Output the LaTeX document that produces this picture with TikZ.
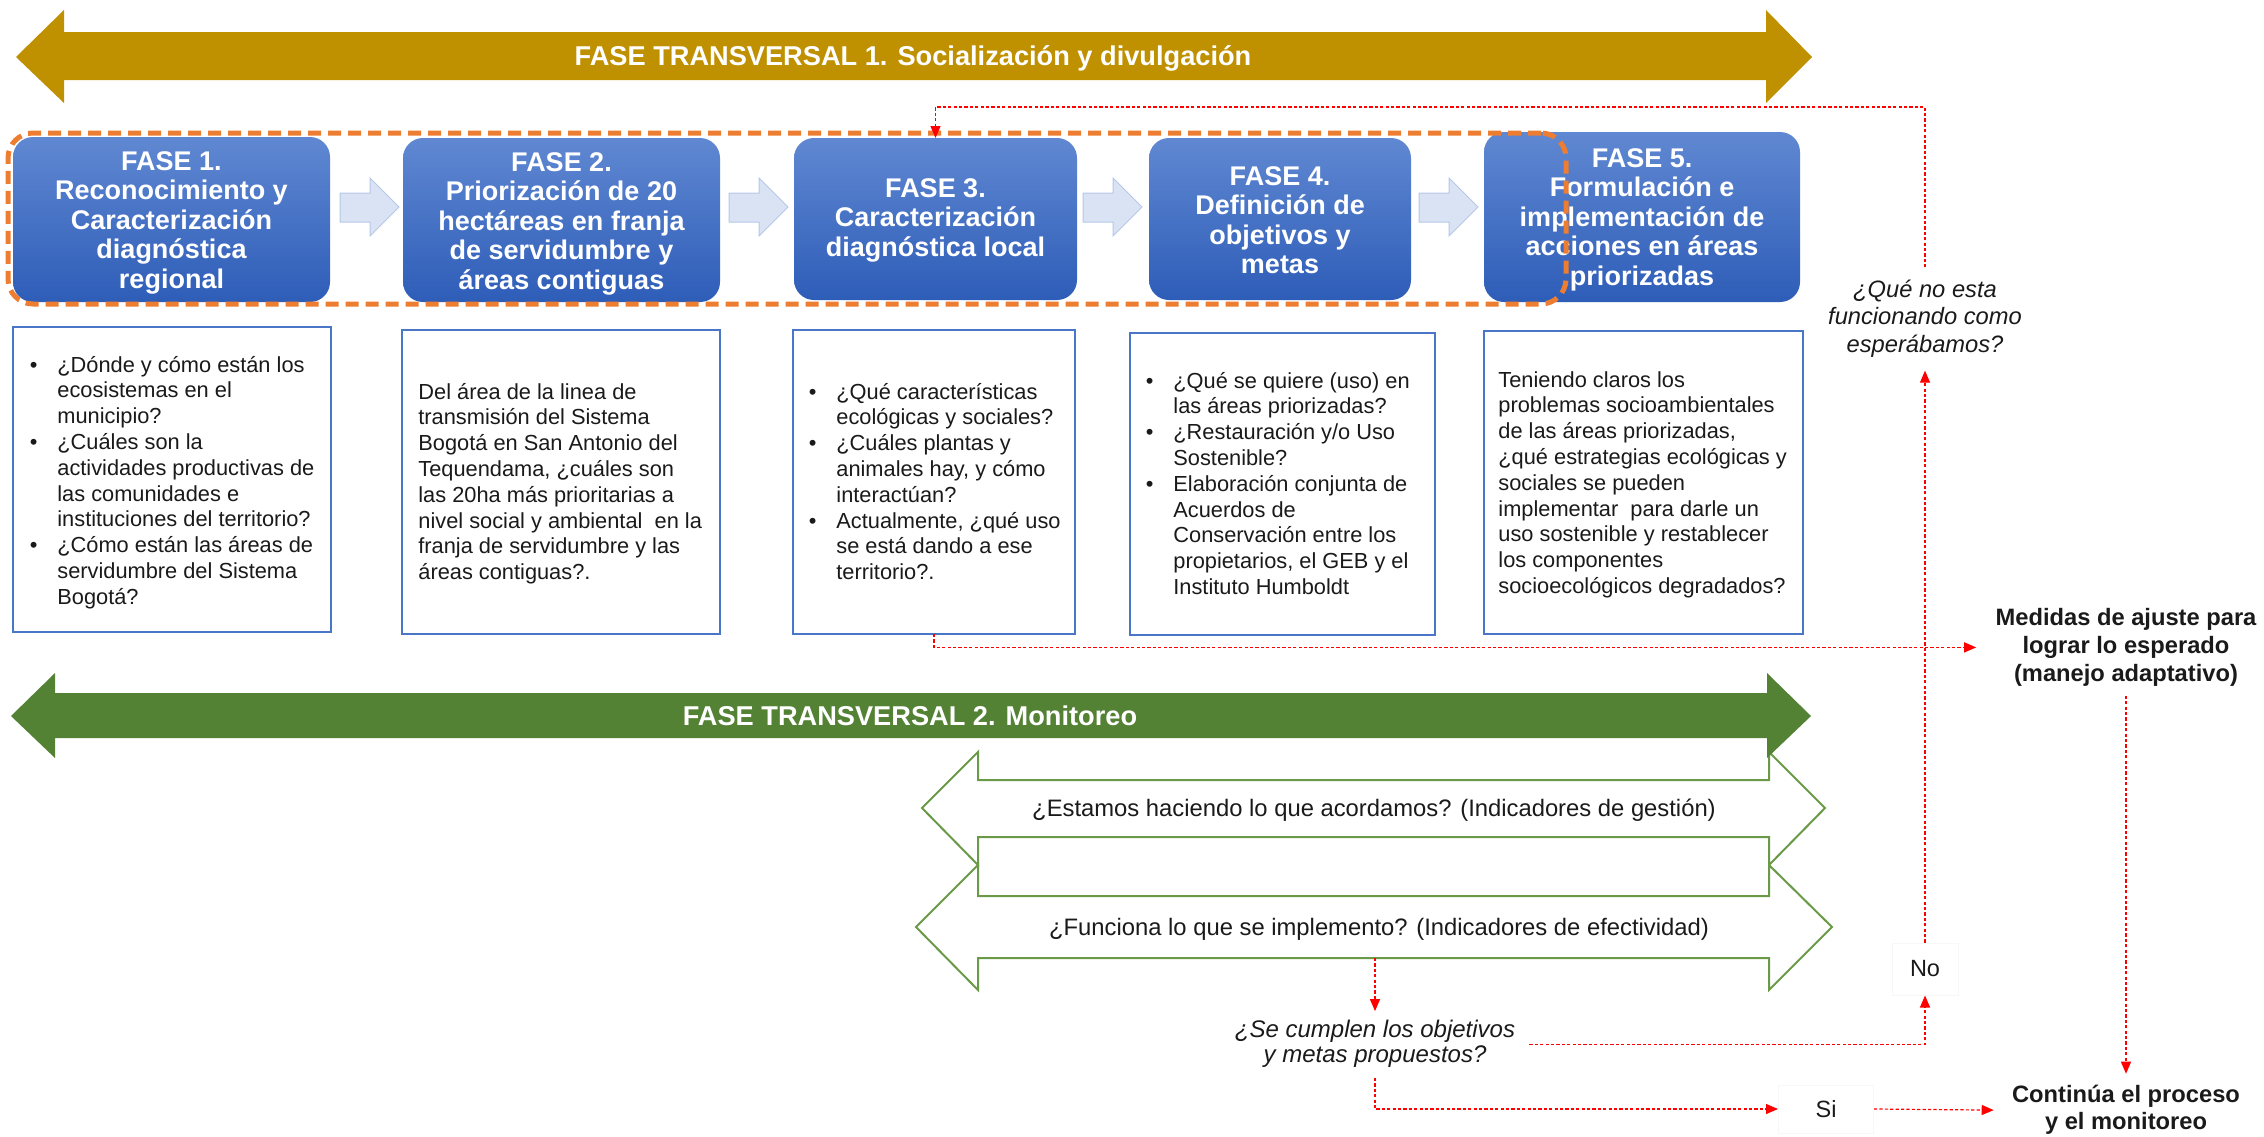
\documentclass[tikz,border=0pt]{standalone}
\usepackage{fontspec}
\setmainfont{Liberation Sans}
\usetikzlibrary{arrows.meta}
\definecolor{gold}{HTML}{BF9000}
\definecolor{mgreen}{HTML}{548235}
\definecolor{ogreen}{HTML}{6A9A48}
\definecolor{bluetop}{HTML}{6088D2}
\definecolor{bluebot}{HTML}{2E5DB8}
\definecolor{tbblue}{HTML}{4A76C8}
\definecolor{lbfill}{HTML}{DAE3F3}
\definecolor{lbdraw}{HTML}{B4C7E7}
\definecolor{orng}{HTML}{ED7D31}
\definecolor{txt}{HTML}{1A1A1A}
\newcommand\mybul{\llap{\textbullet\hspace{10pt}}}
\begin{document}
\begin{tikzpicture}[x=0.5pt,y=-0.5pt,
  phasebox/.style={rounded corners=10pt, top color=bluetop, bottom color=bluebot, draw=none, inner sep=0pt, outer sep=0pt},
  phasetext/.style={text=white, font=\fontsize{13.5pt}{14.75pt}\selectfont\bfseries, inner sep=0pt, anchor=base},
  txtbox/.style={draw=tbblue, line width=1.1pt, fill=white, inner sep=0pt, outer sep=0pt},
  boxtext/.style={text=txt, font=\fontsize{10.9pt}{12.9pt}\selectfont, inner sep=0pt, anchor=base west},
  transtext/.style={text=white, font=\fontsize{13.6pt}{16pt}\selectfont\bfseries, inner sep=0pt, anchor=base},
  mtext/.style={text=txt, font=\fontsize{11.9pt}{14pt}\selectfont, inner sep=0pt, anchor=base},
  redline/.style={draw=red, line width=0.6pt, dash pattern=on 1.6pt off 1.1pt},
  redarrow/.style={redline, -{Triangle[length=6pt,width=5pt]}},
  lightarrow/.style={fill=lbfill, draw=lbdraw, line width=0.5pt},
  outarrow/.style={draw=ogreen, line width=1pt, fill=white, line join=miter},
  orangebox/.style={draw=orng, line width=2.5pt, dash pattern=on 6.5pt off 3.5pt, rounded corners=12.5pt, inner sep=0pt, outer sep=0pt},
  faintbox/.style={draw=black!3, line width=0.5pt, inner sep=0pt, text=txt, font=\fontsize{11.75pt}{14pt}\selectfont}
]
\useasboundingbox (0,0) rectangle (2264,1136);

% Transversal 1
\fill[gold] (16,57) -- (64,10) -- (64,32) -- (1766,32) -- (1766,10) -- (1812,57) -- (1766,103) -- (1766,80) -- (64,80) -- (64,103) -- cycle;
\node[transtext] (ft1) at (913,65) {FASE TRANSVERSAL 1. Socialización y divulgación};

% Phase boxes
\node[phasebox, minimum width=158.5pt, minimum height=82.5pt] (f1) at (171.5,219.5) {};
\node[phasebox, minimum width=158.5pt, minimum height=82pt] (f2) at (561.5,220) {};
\node[phasebox, minimum width=141.5pt, minimum height=81pt] (f3) at (935.5,219) {};
\node[phasebox, minimum width=131pt, minimum height=81pt] (f4) at (1280,219) {};
\node[phasebox, minimum width=158pt, minimum height=85pt] (f5) at (1642,217) {};

\node[phasetext] (p1) at (171.5,170) {\begin{tabular}[t]{@{}c@{}}FASE 1.\\Reconocimiento y\\Caracterización\\diagnóstica\\regional\end{tabular}};
\node[phasetext] (p2) at (561.5,171) {\begin{tabular}[t]{@{}c@{}}FASE 2.\\Priorización de 20\\hectáreas en franja\\de servidumbre y\\áreas contiguas\end{tabular}};
\node[phasetext] (p3) at (935.5,197) {\begin{tabular}[t]{@{}c@{}}FASE 3.\\Caracterización\\diagnóstica local\end{tabular}};
\node[phasetext] (p4) at (1280,185) {\begin{tabular}[t]{@{}c@{}}FASE 4.\\Definición de\\objetivos y\\metas\end{tabular}};
\node[phasetext] (p5) at (1642,167) {\begin{tabular}[t]{@{}c@{}}FASE 5.\\Formulación e\\implementación de\\acciones en áreas\\priorizadas\end{tabular}};

% light arrows between phases
\foreach \x in {340,729,1083,1419}
  \draw[lightarrow] (\x,193) -- (\x+30,193) -- (\x+30,178) -- (\x+59,207) -- (\x+30,236) -- (\x+30,222) -- (\x,222) -- cycle;

% orange dashed group
\node[orangebox, minimum width=779pt, minimum height=85.5pt] (grp) at (787,218.5) {};

% text boxes
\node[txtbox, minimum width=159pt, minimum height=152.5pt] (tb1) at (172,479.5) {};
\node[txtbox, minimum width=159pt, minimum height=152pt] (tb2) at (561,482) {};
\node[txtbox, minimum width=141pt, minimum height=152pt] (tb3) at (934,482) {};
\node[txtbox, minimum width=152.5pt, minimum height=151pt] (tb4) at (1282.5,484) {};
\node[txtbox, minimum width=159.5pt, minimum height=151.5pt] (tb5) at (1643.5,482.5) {};

\node[boxtext] (t1) at (57,372) {\begin{tabular}[t]{@{}l@{}}\mybul ¿Dónde y cómo están los\\ecosistemas en el\\municipio?\\\mybul ¿Cuáles son la\\actividades productivas de\\las comunidades e\\instituciones del territorio?\\\mybul ¿Cómo están las áreas de\\servidumbre del Sistema\\Bogotá?\end{tabular}};
\node[boxtext] (t2) at (418,399) {\begin{tabular}[t]{@{}l@{}}Del área de la linea de\\transmisión del Sistema\\Bogotá en San Antonio del\\Tequendama, ¿cuáles son\\las 20ha más prioritarias a\\nivel social y ambiental\ \ en la\\franja de servidumbre y las\\áreas contiguas?.\end{tabular}};
\node[boxtext] (t3) at (836,399) {\begin{tabular}[t]{@{}l@{}}\mybul ¿Qué características\\ecológicas y sociales?\\\mybul ¿Cuáles plantas y\\animales hay, y cómo\\interactúan?\\\mybul Actualmente, ¿qué uso\\se está dando a ese\\territorio?.\end{tabular}};
\node[boxtext] (t4) at (1173,388) {\begin{tabular}[t]{@{}l@{}}\mybul ¿Qué se quiere (uso) en\\las áreas priorizadas?\\\mybul ¿Restauración y/o Uso\\Sostenible?\\\mybul Elaboración conjunta de\\Acuerdos de\\Conservación entre los\\propietarios, el GEB y el\\Instituto Humboldt\end{tabular}};
\node[boxtext] (t5) at (1498,387) {\begin{tabular}[t]{@{}l@{}}Teniendo claros los\\problemas socioambientales\\de las áreas priorizadas,\\¿qué estrategias ecológicas y\\sociales se pueden\\implementar\ \ para darle un\\uso sostenible y restablecer\\los componentes\\socioecológicos degradados?\end{tabular}};

% monitoring outline arrows
\draw[outarrow] (978,780) -- (1769,780) -- (1769,752) -- (1825,808) -- (1769,865) -- (1769,837) -- (978,837) -- (978,865) -- (922,808) -- (978,752) -- cycle;
\draw[outarrow] (978,896) -- (1769,896) -- (1769,865) -- (1832,927) -- (1769,990) -- (1769,958) -- (978,958) -- (978,990) -- (916,927) -- (978,865) -- cycle;

% Transversal 2
\fill[mgreen] (11,716) -- (55,673) -- (55,693) -- (1767,693) -- (1767,673) -- (1811,716) -- (1767,758) -- (1767,738) -- (55,738) -- (55,758) -- cycle;
\node[transtext] (ft2) at (910,725) {FASE TRANSVERSAL 2. Monitoreo};

\node[mtext] (m1) at (1374,816) {¿Estamos haciendo lo que acordamos? (Indicadores de gestión)};
\node[mtext] (m2) at (1379,935) {¿Funciona lo que se implemento? (Indicadores de efectividad)};

% decision texts
\node[text=txt, font=\fontsize{11.85pt}{13.75pt}\selectfont\itshape, inner xsep=2pt, inner ysep=5pt, anchor=base] (noesta) at (1925,297) {\begin{tabular}[t]{@{}c@{}}¿Qué no esta\\funcionando como\\esperábamos?\end{tabular}};
\node[text=txt, font=\fontsize{12pt}{12.5pt}\selectfont\itshape, inner xsep=7pt, inner ysep=4pt, anchor=base] (cumplen) at (1375,1037) {\begin{tabular}[t]{@{}c@{}}¿Se cumplen los objetivos\\y metas propuestos?\end{tabular}};
\node[text=txt, font=\fontsize{11.85pt}{14pt}\selectfont\bfseries, inner xsep=9.5pt, inner ysep=3pt, anchor=base] (medidas) at (2126,625) {\begin{tabular}[t]{@{}c@{}}Medidas de ajuste para\\lograr lo esperado\\(manejo adaptativo)\end{tabular}};
\node[text=txt, font=\fontsize{11.85pt}{13.5pt}\selectfont\bfseries, inner xsep=9pt, inner ysep=4.5pt, anchor=base] (continua) at (2126,1102) {\begin{tabular}[t]{@{}c@{}}Continúa el proceso\\y el monitoreo\end{tabular}};
\node[faintbox, minimum width=33pt, minimum height=26pt] (no) at (1925,969) {No};
\node[faintbox, minimum width=47.5pt, minimum height=24pt] (si) at (1826,1109) {Si};

% red connectors
\coordinate (ytop) at (0,107);
\coordinate (bmid) at (1375,958);
\draw[redarrow] (noesta.north) |- (f3.north |- ytop) -- (f3.north);
\draw[redarrow] (tb3.south) |- (medidas.west);
\draw[redarrow] (no.north) -- (noesta.south);
\draw[redarrow] (medidas.south) -- (continua.north);
\draw[redarrow] (bmid) -- (cumplen.north);
\draw[redarrow] (cumplen.east) -| (no.south);
\draw[redarrow] (cumplen.south) |- (si.west);
\draw[redarrow] (si.east) -- (continua.west);
\end{tikzpicture}
\end{document}
